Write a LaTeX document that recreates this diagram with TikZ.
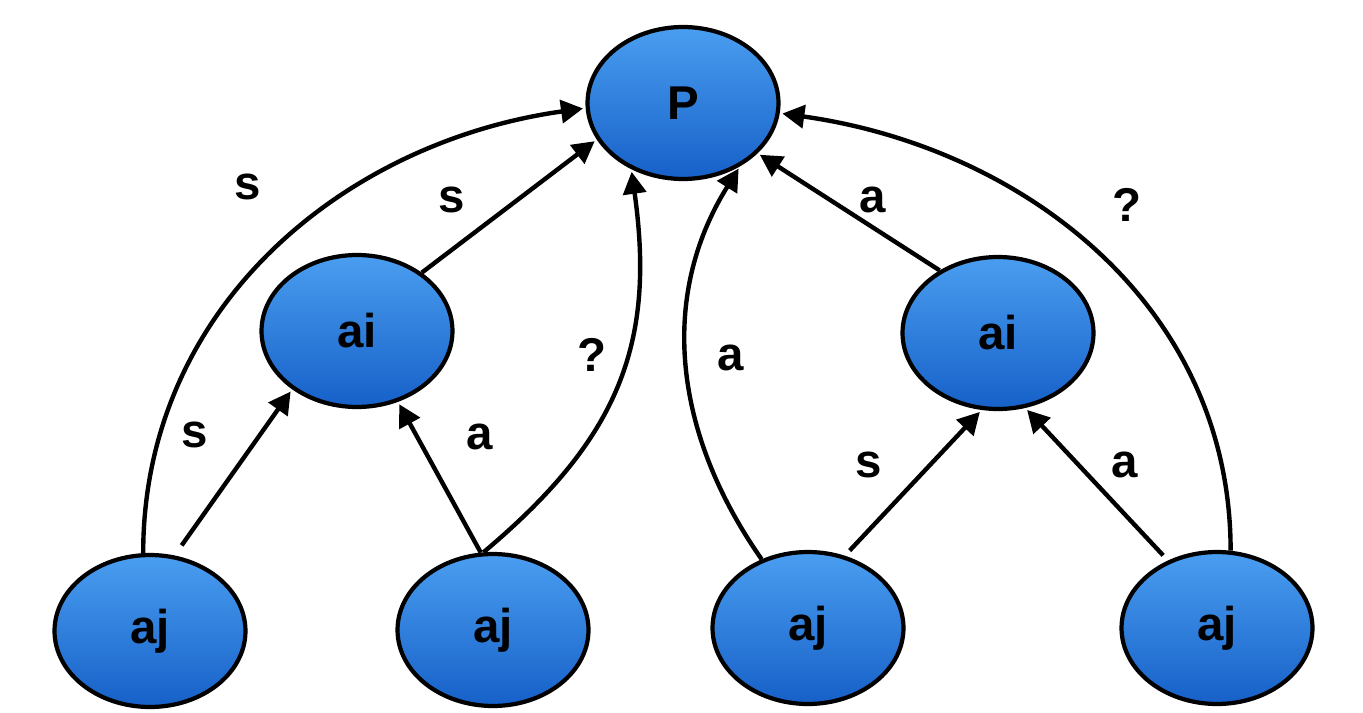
\documentclass[tikz,border=0pt]{standalone}
\usepackage{fontspec}
\setmainfont{Liberation Sans}
\usetikzlibrary{shapes.geometric,arrows.meta}
\definecolor{nodetop}{RGB}{74,158,240}
\definecolor{nodebot}{RGB}{22,96,200}
\tikzset{
  agent/.style={ellipse,draw=black,line width=2.4pt,top color=nodetop,bottom color=nodebot,
    minimum width=3.82cm,minimum height=3.04cm,inner sep=0pt,font=\fontsize{27}{31}\selectfont\bfseries},
  rel/.style={line width=2.5pt,-{Triangle[length=0.44cm,width=0.46cm]},shorten >=1.5pt},
  lab/.style={font=\fontsize{27}{31}\selectfont\bfseries}
}
\begin{document}
\begin{tikzpicture}[x=0.02cm,y=-0.02cm]
\useasboundingbox (0,0) rectangle (1363,713);
% nodes
\node[agent] (P) at (683,103) {P};
\node[agent] (ail) at (357,331) {ai};
\node[agent] (air) at (998,333) {ai};
\node[agent] (aja) at (150,631) {aj};
\node[agent] (ajb) at (493,630) {aj};
\node[agent] (ajc) at (808,628) {aj};
\node[agent] (ajd) at (1217,628) {aj};
% left half
\draw[rel] (aja.95) to[out=90,in=188] (P.183);
\draw[rel,shorten <=7pt] (aja.72) -- (ail.222);
\draw[rel] (ail.42) -- (P.203);
\draw[rel] (ajb.99) -- (ail.300);
\draw[rel] (ajb.97) to[out=40,in=-82,looseness=1.1] (P.232);
% right half
\draw[rel] (ajc.124) to[out=125,in=238] (P.312);
\draw[rel] (air.133) -- (P.326);
\draw[rel,shorten <=4pt] (ajc.63) -- (air.258);
\draw[rel,shorten <=4pt] (ajd.126) -- (air.290);
\draw[rel] (ajd.80) to[out=90,in=-8] (P.354);
% labels
\node[lab] (l1) at (248,187) {s};
\node[lab] (l2) at (195,435) {s};
\node[lab] (l3) at (452,200) {s};
\node[lab] (l4) at (480,437) {a};
\node[lab] (l5) at (592,355) {?};
\node[lab] (l6) at (731,358) {a};
\node[lab] (l7) at (873,200) {a};
\node[lab] (l8) at (869,465) {s};
\node[lab] (l9) at (1125,465) {a};
\node[lab] (l10) at (1127,205) {?};
\end{tikzpicture}
\end{document}
